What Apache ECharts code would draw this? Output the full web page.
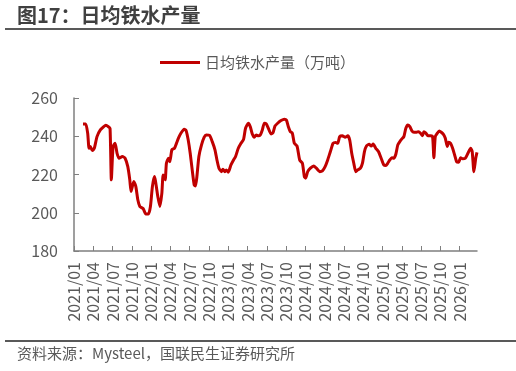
<!DOCTYPE html>
<html>
<head>
<meta charset="utf-8">
<script src="https://cdn.jsdelivr.net/npm/echarts@6/dist/echarts.min.js"></script>
<style>
html,body{margin:0;padding:0;background:#fff;}
#c{width:516px;height:371px;}
</style>
</head>
<body>
<div id="c"></div>
<script>
var months = [1.40,1.82,2.13,2.34,2.54,2.85,3.16,3.58,4.10,4.63,4.94,5.35,5.61,5.81,6.08,6.39,6.70,7.01,7.53,7.95,
8.37,8.68,8.88,9.30,9.62,9.93,10.24,10.75,11.17,11.58,11.89,12.20,12.51,13.04,13.36,13.67,13.87,14.18,14.38,14.70,
14.91,15.23,15.63,15.94,16.25,16.63,17.14,17.45,17.77,18.08,18.39,18.70,18.90,19.12,19.43,19.84,20.26,20.57,21.08,21.51,
21.93,22.24,22.55,22.95,23.17,23.48,23.69,24.00,24.42,24.82,25.14,25.56,25.98,26.38,26.69,27.12,27.43,27.74,28.05,28.36,
28.67,28.99,29.30,29.61,29.92,30.23,30.65,30.97,31.28,31.68,32.21,32.73,33.04,33.35,33.66,33.97,34.28,34.70,35.11,35.53,
35.84,36.04,36.36,36.78,37.29,37.71,38.23,38.65,39.07,39.47,39.89,40.31,40.72,41.03,41.34,41.76,42.18,42.59,42.90,43.21,
43.53,43.84,44.15,44.57,44.88,45.19,45.50,45.92,46.24,46.55,46.95,47.37,47.79,48.20,48.51,48.82,49.14,49.45,49.76,50.07,
50.38,50.69,51.01,51.32,51.63,51.94,52.25,52.57,52.88,53.30,53.61,53.92,54.23,54.43,54.75,55.06,55.48,55.79,55.99,56.21,
56.52,56.83,57.14,57.45,57.77,58.08,58.28,58.59,58.91,59.22,59.53,59.84,60.15,60.46,60.88,61.29,61.71,61.95,62.22,62.50,62.70];
// 日均铁水产量（万吨）
var output = [246.4,246.4,241.6,233.7,234.6,232.5,233.7,239.8,243.3,245.0,245.7,245.0,244.0,217.2,234.6,236.3,231.1,228.5,229.4,228.5,
224.1,217.2,211.1,216.3,213.7,206.8,203.3,202.2,199.4,199.4,203.3,213.7,218.9,208.5,203.3,210.3,219.8,217.2,225.9,228.5,
226.7,232.9,233.7,236.3,239.0,241.6,243.7,242.9,238.0,231.1,222.4,214.6,214.0,218.9,229.4,235.5,239.5,240.7,240.5,237.2,
232.9,227.6,223.3,221.5,222.8,221.5,222.4,221.2,225.0,227.6,229.4,233.7,236.3,238.4,244.2,246.8,245.0,241.2,239.5,240.7,
240.2,240.7,243.3,246.8,246.4,244.2,241.2,241.9,245.4,246.8,248.2,248.9,248.5,245.0,242.4,241.6,236.3,234.9,227.6,225.9,
218.9,218.1,221.5,223.3,224.5,223.3,221.5,221.9,224.1,227.6,232.0,236.3,236.7,236.3,239.8,240.2,239.5,240.2,238.0,231.1,
225.9,221.5,222.4,223.3,225.9,232.0,234.9,235.8,234.9,235.9,233.7,232.0,228.5,225.0,224.7,225.9,227.6,228.8,228.5,230.6,
235.5,237.2,238.6,239.8,244.2,245.9,245.0,242.8,242.1,242.1,242.4,241.6,240.3,242.4,241.6,240.3,240.3,239.8,228.8,239.8,
241.6,242.8,242.1,241.1,239.0,234.6,236.9,236.3,233.7,230.2,226.7,226.4,228.8,228.2,228.5,231.1,233.7,232.0,221.5,228.5,231.6];
var yTicks = {min:180, max:260, step:20};
var xRange = {min:0, max:62.7, step:3};
var seriesName = '日均铁水产量（万吨）';
var titleText = '图17：日均铁水产量';
var sourceText = '资料来源：Mysteel，国联民生证券研究所';

var data = months.map(function(m,i){return [m, output[i]];});
var chart = echarts.init(document.getElementById('c'), null, {renderer:'canvas'});
var font = '"Microsoft YaHei","Noto Sans CJK SC","Noto Sans",sans-serif';
chart.setOption({
  animation:false,
  textStyle:{fontFamily:font},
  graphic:[
    {type:'text', left:17, top:5, style:{text:titleText, font:'bold 20px '+font, fill:'#404040'}},
    {type:'rect', shape:{x:5,y:28,width:511,height:2}, style:{fill:'#595959'}},
    {type:'rect', shape:{x:5,y:340,width:511,height:2}, style:{fill:'#595959'}},
    {type:'text', left:17, top:346, style:{text:sourceText, font:'15px '+font, fill:'#595959'}}
  ],
  legend:{
    show:true, top:50, left:155,
    icon:'rect', itemWidth:40, itemHeight:3, itemGap:4,
    textStyle:{fontSize:15, color:'#595959', fontFamily:font},
    data:[seriesName]
  },
  grid:{left:74, right:39, top:98, bottom:120, containLabel:false},
  xAxis:{
    type:'value', min:xRange.min, max:xRange.max, interval:xRange.step,
    axisLine:{show:true, lineStyle:{color:'#7f7f7f', width:1.5}},
    axisTick:{show:true, inside:true, length:5, lineStyle:{color:'#7f7f7f'}},
    splitLine:{show:false},
    axisLabel:{
      rotate:90, fontSize:16, color:'#595959', margin:11, showMaxLabel:false,
      formatter:function(v){
        var y = 2021 + Math.floor(v/12); var m = Math.round(v%12)+1;
        return y + '/' + (m<10?'0'+m:m);
      }
    }
  },
  yAxis:{
    type:'value', min:yTicks.min, max:yTicks.max, interval:yTicks.step,
    axisLine:{show:true, lineStyle:{color:'#7f7f7f', width:1.5}},
    axisTick:{show:true, inside:true, length:5, lineStyle:{color:'#7f7f7f'}},
    splitLine:{show:false},
    axisLabel:{fontSize:16, color:'#595959', margin:16}
  },
  series:[{
    name:seriesName, type:'line', data:data, showSymbol:false, symbol:'none',
    smooth:0.2,
    lineStyle:{color:'#C00000', width:3}, itemStyle:{color:'#C00000'}
  }]
});
</script>
</body>
</html>
